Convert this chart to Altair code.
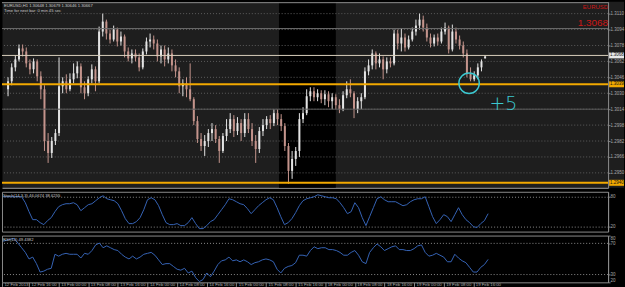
import json
import numpy as np
import pandas as pd
import altair as alt

# ---------------- data (EURUSD, H1) ----------------
opens = [1.3034, 1.3042, 1.3056, 1.3064, 1.3075, 1.3072, 1.3060, 1.3054, 1.3062, 1.3047,
         1.3034, 1.2982, 1.2970, 1.2982, 1.2990, 1.3037, 1.3042, 1.3034, 1.3044, 1.3050,
         1.3057, 1.3036, 1.3030, 1.3044, 1.3054, 1.3042, 1.3092, 1.3102, 1.3090, 1.3084,
         1.3094, 1.3082, 1.3087, 1.3072, 1.3065, 1.3070, 1.3066, 1.3056, 1.3072, 1.3082,
         1.3084, 1.3080, 1.3067, 1.3074, 1.3064, 1.3070, 1.3058, 1.3052, 1.3037, 1.3040,
         1.3034, 1.3024, 1.3002, 1.2984, 1.2977, 1.2982, 1.2990, 1.2994, 1.2984, 1.2972,
         1.2987, 1.2994, 1.3004, 1.2992, 1.3000, 1.2990, 1.3004, 1.2994, 1.2982, 1.2974,
         1.2992, 1.2998, 1.3004, 1.3000, 1.3010, 1.3004, 1.2997, 1.2977, 1.2952, 1.2964,
         1.2972, 1.3004, 1.3010, 1.3027, 1.3032, 1.3026, 1.3030, 1.3024, 1.3029, 1.3022,
         1.3026, 1.3018, 1.3014, 1.3028, 1.3034, 1.3030, 1.3014, 1.3022, 1.3026, 1.3052,
         1.3058, 1.3070, 1.3060, 1.3064, 1.3054, 1.3062, 1.3060, 1.3090, 1.3080, 1.3086,
         1.3076, 1.3084, 1.3092, 1.3098, 1.3104, 1.3096, 1.3086, 1.3080, 1.3086, 1.3082,
         1.3092, 1.3096, 1.3074, 1.3092, 1.3084, 1.3078, 1.3070, 1.3050, 1.3044, 1.3048,
         1.3056, 1.3065]
highs = [1.3046, 1.3060, 1.3068, 1.3079, 1.3079, 1.3076, 1.3064, 1.3065, 1.3064, 1.3052,
         1.3038, 1.2990, 1.2986, 1.2994, 1.3066, 1.3046, 1.3049, 1.3050, 1.3060, 1.3062,
         1.3060, 1.3042, 1.3047, 1.3059, 1.3057, 1.3097, 1.3110, 1.3104, 1.3094, 1.3098,
         1.3096, 1.3092, 1.3089, 1.3076, 1.3074, 1.3074, 1.3070, 1.3075, 1.3086, 1.3090,
         1.3088, 1.3084, 1.3078, 1.3078, 1.3076, 1.3074, 1.3064, 1.3056, 1.3044, 1.3046,
         1.3060, 1.3026, 1.3007, 1.2990, 1.2988, 1.2994, 1.3000, 1.2998, 1.2987, 1.2990,
         1.3004, 1.3010, 1.3008, 1.3006, 1.3004, 1.3010, 1.3010, 1.3000, 1.2988, 1.2996,
         1.3004, 1.3007, 1.3008, 1.3014, 1.3014, 1.3009, 1.3000, 1.2980, 1.2972, 1.2976,
         1.3010, 1.3016, 1.3034, 1.3036, 1.3036, 1.3034, 1.3033, 1.3033, 1.3032, 1.3030,
         1.3029, 1.3024, 1.3032, 1.3042, 1.3044, 1.3032, 1.3026, 1.3030, 1.3056, 1.3064,
         1.3074, 1.3072, 1.3070, 1.3067, 1.3066, 1.3066, 1.3094, 1.3094, 1.3095, 1.3090,
         1.3088, 1.3096, 1.3104, 1.3110, 1.3108, 1.3100, 1.3090, 1.3089, 1.3090, 1.3096,
         1.3101, 1.3098, 1.3099, 1.3096, 1.3088, 1.3082, 1.3074, 1.3056, 1.3052, 1.3060,
         1.3064, 1.3068]
lows = [1.3027, 1.3038, 1.3052, 1.3062, 1.3067, 1.3056, 1.3049, 1.3050, 1.3042, 1.3024,
        1.2972, 1.2960, 1.2965, 1.2978, 1.2987, 1.3030, 1.3030, 1.3032, 1.3040, 1.3045,
        1.3030, 1.3024, 1.3027, 1.3040, 1.3032, 1.3040, 1.3087, 1.3084, 1.3080, 1.3082,
        1.3077, 1.3078, 1.3066, 1.3062, 1.3060, 1.3062, 1.3052, 1.3054, 1.3069, 1.3076,
        1.3074, 1.3062, 1.3060, 1.3057, 1.3060, 1.3052, 1.3046, 1.3030, 1.3027, 1.3026,
        1.3022, 1.2998, 1.2980, 1.2972, 1.2967, 1.2976, 1.2982, 1.2980, 1.2960, 1.2970,
        1.2982, 1.2990, 1.2986, 1.2988, 1.2982, 1.2986, 1.2990, 1.2977, 1.2960, 1.2970,
        1.2987, 1.2994, 1.2994, 1.2997, 1.2998, 1.2992, 1.2972, 1.2939, 1.2944, 1.2957,
        1.2966, 1.3000, 1.3008, 1.3022, 1.3022, 1.3022, 1.3020, 1.3018, 1.3016, 1.3014,
        1.3014, 1.3010, 1.3012, 1.3025, 1.3026, 1.3005, 1.3010, 1.3014, 1.3024, 1.3048,
        1.3054, 1.3054, 1.3056, 1.3044, 1.3050, 1.3056, 1.3058, 1.3074, 1.3072, 1.3072,
        1.3074, 1.3082, 1.3088, 1.3094, 1.3092, 1.3082, 1.3076, 1.3077, 1.3078, 1.3080,
        1.3089, 1.3070, 1.3072, 1.3080, 1.3074, 1.3066, 1.3046, 1.3042, 1.3042, 1.3044,
        1.3052, 1.3065]
closes = [1.3042, 1.3056, 1.3064, 1.3075, 1.3072, 1.3060, 1.3054, 1.3062, 1.3047, 1.3034,
          1.2982, 1.2970, 1.2982, 1.2990, 1.3037, 1.3042, 1.3034, 1.3044, 1.3050, 1.3057,
          1.3036, 1.3030, 1.3044, 1.3054, 1.3042, 1.3092, 1.3102, 1.3090, 1.3084, 1.3094,
          1.3082, 1.3087, 1.3072, 1.3065, 1.3070, 1.3066, 1.3056, 1.3072, 1.3082, 1.3084,
          1.3080, 1.3067, 1.3074, 1.3064, 1.3070, 1.3058, 1.3052, 1.3037, 1.3040, 1.3034,
          1.3024, 1.3002, 1.2984, 1.2977, 1.2982, 1.2990, 1.2994, 1.2984, 1.2972, 1.2987,
          1.2994, 1.3004, 1.2992, 1.3000, 1.2990, 1.3004, 1.2994, 1.2982, 1.2974, 1.2992,
          1.2998, 1.3004, 1.3000, 1.3010, 1.3004, 1.2997, 1.2977, 1.2952, 1.2964, 1.2972,
          1.3004, 1.3010, 1.3027, 1.3032, 1.3026, 1.3030, 1.3024, 1.3029, 1.3022, 1.3026,
          1.3018, 1.3014, 1.3028, 1.3034, 1.3030, 1.3014, 1.3022, 1.3026, 1.3052, 1.3058,
          1.3070, 1.3060, 1.3064, 1.3054, 1.3062, 1.3060, 1.3090, 1.3080, 1.3086, 1.3076,
          1.3084, 1.3092, 1.3098, 1.3104, 1.3096, 1.3086, 1.3080, 1.3086, 1.3082, 1.3092,
          1.3096, 1.3074, 1.3092, 1.3084, 1.3078, 1.3070, 1.3050, 1.3044, 1.3048, 1.3056,
          1.3062, 1.3067]
stoch_main = [80, 80, 80, 80, 80, 80, 68, 50, 34, 34,
              28, 24, 32, 38, 50, 60, 64, 66, 66, 68,
              64, 52, 58, 64, 66, 72, 78, 82, 76, 74,
              72, 66, 52, 36, 26, 26, 30, 38, 54, 74,
              78, 74, 62, 44, 28, 24, 24, 26, 22, 22,
              28, 38, 26, 16, 16, 22, 30, 34, 44, 54,
              64, 76, 74, 70, 66, 64, 56, 46, 54, 62,
              68, 74, 78, 74, 58, 40, 24, 28, 36, 48,
              62, 72, 76, 78, 80, 84, 82, 80, 78, 78,
              76, 68, 58, 46, 50, 68, 58, 38, 22, 40,
              58, 76, 80, 74, 70, 70, 70, 66, 62, 64,
              70, 74, 76, 76, 80, 60, 40, 26, 34, 44,
              40, 30, 44, 58, 44, 34, 28, 20, 18, 26,
              32, 46]
rsi_vals = [72.8, 74, 75.2, 76.4, 70.4, 64.4, 58.4, 50, 52.4, 44,
            33.2, 34.4, 36.8, 38, 56, 53.6, 56, 57.2, 56, 56,
            56, 51.2, 57.2, 56, 60.8, 68, 70.4, 64.4, 66.8, 64.4,
            62, 60.8, 56, 52.4, 50, 53.6, 50, 52.4, 56, 57.2,
            58.4, 54.8, 48.8, 42.8, 44, 44, 40.4, 36.8, 35.6, 38,
            32, 34.4, 26, 21, 23.6, 32, 27.2, 34.4, 42.8, 47.6,
            48.8, 52.4, 47.6, 48.8, 46.4, 48.8, 46.4, 42.8, 45.2, 46.4,
            48.8, 50, 48.8, 46.4, 36.8, 32, 38, 40.4, 41.6, 45.2,
            54.8, 54.8, 53.6, 60.8, 65.6, 63.2, 64.4, 64.4, 62, 62,
            60.8, 58.4, 54.8, 54.8, 58.4, 60.8, 54.8, 46.4, 44, 58.4,
            64.4, 69.2, 65.6, 60.8, 63.2, 65.6, 66.8, 62, 62, 60.8,
            60.8, 63.2, 66.8, 68, 58.4, 53.6, 54.8, 57.2, 54.8, 52.4,
            46.4, 46.4, 56, 51.2, 47.6, 45.2, 39.2, 33.2, 33.2, 39.2,
            42.8, 49.4]
time_labels = ["12 Feb 2013", "12 Feb 16:00", "13 Feb 00:00", "13 Feb 08:00", "13 Feb 16:00",
               "14 Feb 00:00", "14 Feb 08:00", "14 Feb 16:00", "15 Feb 00:00", "15 Feb 08:00",
               "15 Feb 16:00", "18 Feb 00:00", "18 Feb 08:00", "18 Feb 16:00", "19 Feb 00:00",
               "19 Feb 08:00", "19 Feb 16:00"]
time_tick_bars = [-0.3, 7, 15, 23, 31, 39, 47, 55, 63, 71, 79, 87, 95, 103, 111, 119, 127]
grid_prices = [1.3110, 1.3094, 1.3078, 1.3062, 1.3046, 1.3030, 1.3014, 1.2998, 1.2982, 1.2966, 1.2950]
level_prices = [1.3121, 1.3095, 1.3068, 1.3039, 1.3014, 1.2940]
price_tags = [1.3068, 1.3039, 1.2940]
shaded_bars = [74.4, 90.0]
circle_point = [126.6, 1.3040]
note_point = [136.0, 1.3019]
stoch_levels = [20, 80]
rsi_levels = [30, 70]
rsi_labels = [20, 30, 70, 80]

# ---------------- styles ----------------
W = 609
H_PRICE, H_STO, H_RSI = 187, 40, 47
FONT = "Liberation Sans"
BG_PRICE = "#1e1e1e"
BULL, BEAR = "#e4e4e4", "#c4948c"
BLUE = "#3563b4"
CYAN = "#3cc8d0"
RED = "#cc1818"
LEVEL_STYLE = [("#8c8c8c", 1), ("#6e6e6e", 1), ("#d9d0bc", 1), ("#f2a900", 2), ("#5c5c5c", 1), ("#f2a900", 2)]
TAG_FILL = ["#e8e8e8", "#f2a900", "#f2a900"]

X_DOMAIN = [-0.3, 163.4]
PRICE_DOMAIN = [1.2935, 1.3122]

xs = alt.Scale(domain=X_DOMAIN, nice=False, zero=False)
ps = alt.Scale(domain=PRICE_DOMAIN, nice=False, zero=False)

df = pd.DataFrame({"i": np.arange(len(opens)), "o": opens, "h": highs, "l": lows, "c": closes,
                   "stoch": stoch_main, "rsi": rsi_vals})
df["dir"] = np.where(df["c"] >= df["o"], "up", "down")
one = pd.DataFrame({"a": [0]})

x_axis_price = alt.Axis(labels=False, ticks=False, grid=False, domain=True, domainColor="#a0a0a0", title=None)
y_axis_price = alt.Axis(orient="right", values=grid_prices, format=".4f", grid=False, labelFontSize=4.5,
                        labelFont=FONT, labelColor="#a8a8a8", tickSize=2, tickColor="#808080",
                        domainColor="#8c8c8c", labelPadding=0, title=None, labelOverlap=False, zindex=1)


def PX(f):
    return alt.X(f, type="quantitative", scale=xs, axis=x_axis_price)


def PY(f):
    return alt.Y(f, type="quantitative", scale=ps, axis=y_axis_price)


col = alt.Color("dir:N", scale=alt.Scale(domain=["up", "down"], range=[BULL, BEAR]), legend=None)

layers = []
layers.append(alt.Chart(one).mark_rect(color=BG_PRICE).encode(
    x=alt.value(W), x2=alt.value(W + 16), y=alt.value(0), y2=alt.value(H_PRICE)))
band_df = pd.DataFrame({"b0": [shaded_bars[0]], "b1": [shaded_bars[1]],
                        "lo": [PRICE_DOMAIN[0]], "hi": [PRICE_DOMAIN[1]]})
layers.append(alt.Chart(band_df).mark_rect(color="#000000").encode(
    x=PX("b0"), x2="b1", y=PY("lo"), y2="hi"))
layers.append(alt.Chart(pd.DataFrame({"p": grid_prices})).mark_rule(
    color="#5e5e5e", strokeDash=[1, 2], strokeWidth=1).encode(y=PY("p")))
layers.append(alt.Chart(df).mark_rule(strokeWidth=1).encode(x=PX("i"), y=PY("l"), y2="h", color=col))
layers.append(alt.Chart(df).mark_bar(size=2).encode(x=PX("i"), y=PY("o"), y2="c", color=col))
for p, (c, w) in zip(level_prices, LEVEL_STYLE):
    layers.append(alt.Chart(pd.DataFrame({"p": [p]})).mark_rule(color=c, strokeWidth=w).encode(y=PY("p")))
for p, fill in zip(price_tags, TAG_FILL):
    tdf = pd.DataFrame({"p": [p], "top": [p + 0.0003], "bot": [p - 0.0003], "t": [f"{p:.4f}"]})
    layers.append(alt.Chart(tdf).mark_rect(color=fill).encode(
        x=alt.value(W + 1), x2=alt.value(W + 16), y=PY("top"), y2="bot"))
    layers.append(alt.Chart(tdf).mark_text(align="left", baseline="middle", fontSize=4.5, font=FONT,
                                           color="#111111").encode(x=alt.value(W + 2), y=PY("p"), text="t:N"))
layers.append(alt.Chart(pd.DataFrame({"i": [circle_point[0]], "p": [circle_point[1]]})).mark_point(
    shape="circle", filled=False, size=420, strokeWidth=1.5, color=CYAN, opacity=1).encode(x=PX("i"), y=PY("p")))
layers.append(alt.Chart(pd.DataFrame({"i": [note_point[0]], "p": [note_point[1]], "t": ["+5"]})).mark_text(
    fontSize=19, color=CYAN, font="DejaVu Sans", fontWeight=300, align="center", baseline="middle").encode(
    x=PX("i"), y=PY("p"), text="t:N"))
layers.append(alt.Chart(one).mark_text(align="left", baseline="top", fontSize=4.2, font=FONT, color="#c8c8c8",
                                       text="EURUSD,H1  1.30648 1.30679 1.30646 1.30667").encode(
    x=alt.value(2), y=alt.value(2)))
layers.append(alt.Chart(one).mark_text(align="left", baseline="top", fontSize=4.2, font=FONT, color="#c8c8c8",
                                       text="Time for next bar: 0 min 45 sec").encode(
    x=alt.value(2), y=alt.value(7.5)))
layers.append(alt.Chart(one).mark_text(align="right", baseline="middle", fontSize=6, font=FONT, color=RED,
                                       text="EURUSD").encode(x=alt.value(W), y=alt.value(5)))
layers.append(alt.Chart(one).mark_text(align="right", baseline="middle", fontSize=10, font=FONT, color=RED,
                                       text="1.3068").encode(x=alt.value(W), y=alt.value(21.5)))

price = alt.layer(*layers).properties(
    width=W, height=H_PRICE, view=alt.ViewBackground(fill=BG_PRICE, stroke="transparent"))

# ---------------- stochastic ----------------
sto_axis = alt.Axis(orient="right", values=stoch_levels, grid=True, gridDash=[1, 2], gridColor="#8a8a8a",
                    labelFontSize=4.5, labelFont=FONT, labelColor="#a8a8a8", tickSize=2, tickColor="#808080",
                    domainColor="#8c8c8c", labelPadding=0, title=None)
sto_line = alt.Chart(df).mark_line(color=BLUE, strokeWidth=1, clip=True).encode(
    x=alt.X("i:Q", scale=xs, axis=None),
    y=alt.Y("stoch:Q", scale=alt.Scale(domain=[10, 90], nice=False, zero=False), axis=sto_axis))
sto_title = alt.Chart(one).mark_text(align="left", baseline="top", fontSize=4.2, font=FONT, color="#c8c8c8",
                                     text="Stoch(14,3,3) 46.0674 38.6255").encode(x=alt.value(1), y=alt.value(2))
stoch = alt.layer(sto_line, sto_title).properties(
    width=W, height=H_STO, view=alt.ViewBackground(fill="#000000", stroke="#8a8a8a"))

# ---------------- RSI ----------------
label_expr = json.dumps(time_labels) + "[round((datum.value+1)/8)]"
rsi_x_axis = alt.Axis(values=time_tick_bars, labelExpr=label_expr, tickSize=4, tickColor="#8a8a8a",
                      labelPadding=-4, labelAlign="left", labelBaseline="top", labelOffset=2,
                      labelFontSize=4.3, labelFont=FONT, labelColor="#b0b0b0", domain=False, grid=False,
                      labelOverlap=False, labelFlush=False, labelBound=False, title=None)
rsi_y_axis = alt.Axis(orient="right", values=rsi_labels, grid=False, labelFlush=True,
                      labelFontSize=4.5, labelFont=FONT, labelColor="#a8a8a8", tickSize=2, tickColor="#808080",
                      domainColor="#8c8c8c", labelPadding=0, title=None)
rs = alt.Scale(domain=[20, 80], nice=False, zero=False)
rsi_lv = alt.Chart(pd.DataFrame({"v": rsi_levels})).mark_rule(
    color="#8a8a8a", strokeDash=[1, 2]).encode(y=alt.Y("v:Q", scale=rs, axis=rsi_y_axis))
rsi_line = alt.Chart(df).mark_line(color=BLUE, strokeWidth=1, clip=True).encode(
    x=alt.X("i:Q", scale=xs, axis=rsi_x_axis),
    y=alt.Y("rsi:Q", scale=rs, axis=rsi_y_axis))
rsi_title = alt.Chart(one).mark_text(align="left", baseline="top", fontSize=4.2, font=FONT, color="#c8c8c8",
                                     text="RSI(14) 49.4382").encode(x=alt.value(1), y=alt.value(2))
rsi = alt.layer(rsi_lv, rsi_line, rsi_title).properties(
    width=W, height=H_RSI, view=alt.ViewBackground(fill="#000000", stroke="#8a8a8a"))

chart = alt.vconcat(price, stoch, rsi, spacing=2,
                    padding={"left": 0, "top": 0, "right": 0, "bottom": 2}, background="#000000")
chart.save("out.html", embed_options={"renderer": "svg", "actions": False})
